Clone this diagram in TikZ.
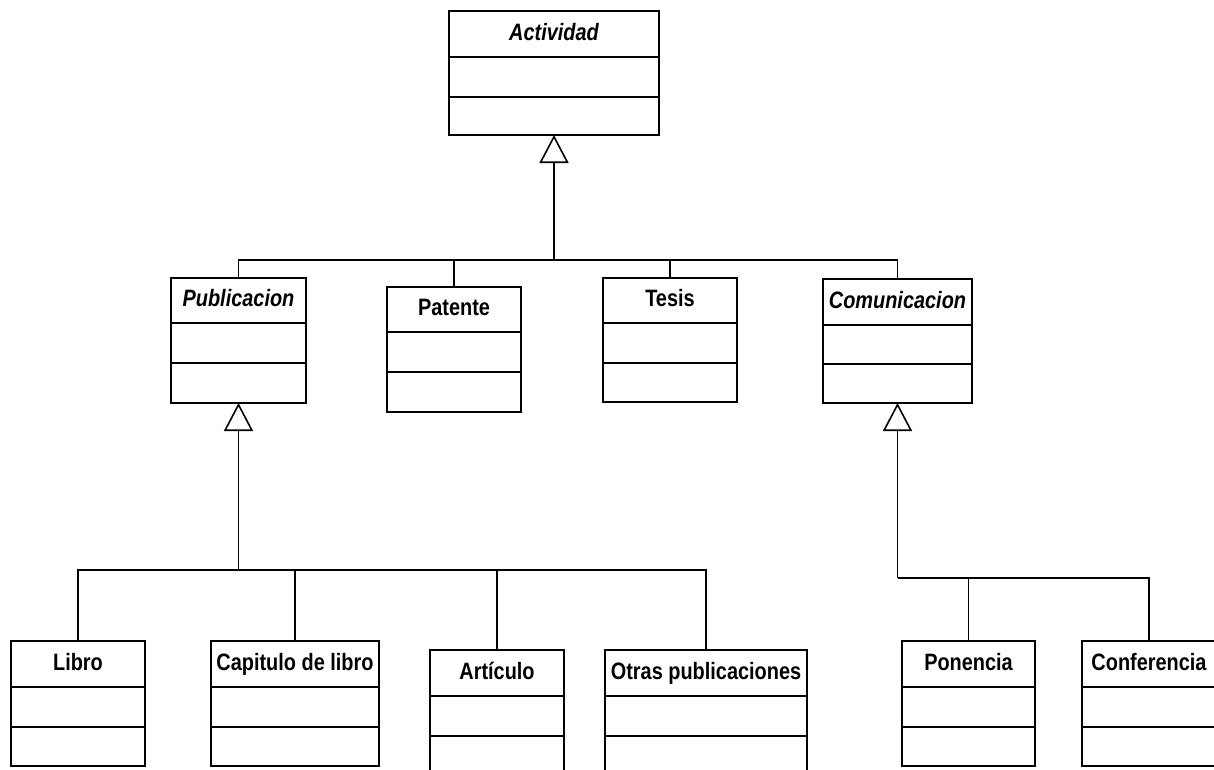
\documentclass[tikz,border=0pt]{standalone}
\usepackage{fontspec}
\setmainfont{Liberation Sans}[FakeStretch=0.84]
\usetikzlibrary{arrows.meta}
\newcommand\fntB{\fontsize{23.7}{26}\selectfont\bfseries}
\newcommand\fntI{\fontsize{23.7}{26}\selectfont\bfseries\itshape}
\newcommand\umlcls[9]{% name, x1, y1, x2, ya, yb, y2, label, font
  \node[hdr, font=#9, minimum width={(#4-#2)*1pt}, minimum height={(#5-#3)*1pt}, anchor=north west] (#1) at (#2,-#3) {#8};
  \node[cmp, minimum width={(#4-#2)*1pt}, minimum height={(#6-#5)*1pt}, anchor=north west] (#1a) at (#2,-#5) {};
  \node[cmp, minimum width={(#4-#2)*1pt}, minimum height={(#7-#6)*1pt}, anchor=north west] (#1o) at (#2,-#6) {};
}
\begin{document}
\begin{tikzpicture}[x=1pt, y=1pt,
  hdr/.style={draw, line width=1.8pt, inner sep=0pt, outer sep=0pt, text height=17pt, text depth=5pt, align=center},
  cmp/.style={draw, line width=1.8pt, inner sep=0pt, outer sep=0pt},
  conn/.style={line width=1.1pt},
  gen/.style={line width=1.1pt, -{Triangle[open, length=28pt, width=29pt, line width=1.6pt, fill=white]}},
]
\useasboundingbox (0,0) rectangle (1214,-769);
\clip (0,0) rectangle (1214,-769);
% top
\umlcls{act}{449}{11}{659}{57}{97}{135}{Actividad}{\fntI}
% middle
\umlcls{pub}{171}{278}{306}{323}{363}{403}{Publicacion}{\fntI}
\umlcls{pat}{387}{287}{521}{332}{372}{412}{Patente}{\fntB}
\umlcls{tes}{603}{278}{737}{323}{363}{402}{Tesis}{\fntB}
\umlcls{com}{823}{279}{972}{325}{364}{403}{Comunicacion}{\fntI}
% bottom
\umlcls{lib}{11}{641}{145}{687}{727}{766}{Libro}{\fntB}
\umlcls{cap}{211}{641}{379}{687}{727}{766}{Capitulo de libro}{\fntB}
\umlcls{art}{430}{650}{564}{696}{736}{776}{Artículo}{\fntB}
\umlcls{otr}{605}{650}{807}{696}{736}{776}{Otras publicaciones}{\fntB}
\umlcls{pon}{902}{641}{1035}{687}{727}{766}{Ponencia}{\fntB}
\umlcls{cnf}{1082}{641}{1216}{687}{727}{766}{Conferencia}{\fntB}
% junctions
\coordinate (j1) at (554,-260);
\coordinate (j2) at (238.5,-570);
\coordinate (j3) at (897.5,-578);
% generalization to Actividad
\draw[gen] (j1) -- (acto.south);
\draw[conn] (pub.north) |- (j1) -| (com.north);
\draw[conn] (pat.north) -- (pat.north |- j1);
\draw[conn] (tes.north) -- (tes.north |- j1);
% generalization to Publicacion
\draw[gen] (j2) -- (pubo.south);
\draw[conn] (lib.north) |- (j2) -| (otr.north);
\draw[conn] (cap.north) -- (cap.north |- j2);
\draw[conn] (art.north) -- (art.north |- j2);
% generalization to Comunicacion
\draw[gen] (j3) -- (como.south);
\draw[conn] (j3) -| (cnf.north);
\draw[conn] (pon.north) -- (pon.north |- j3);
\end{tikzpicture}
\end{document}
